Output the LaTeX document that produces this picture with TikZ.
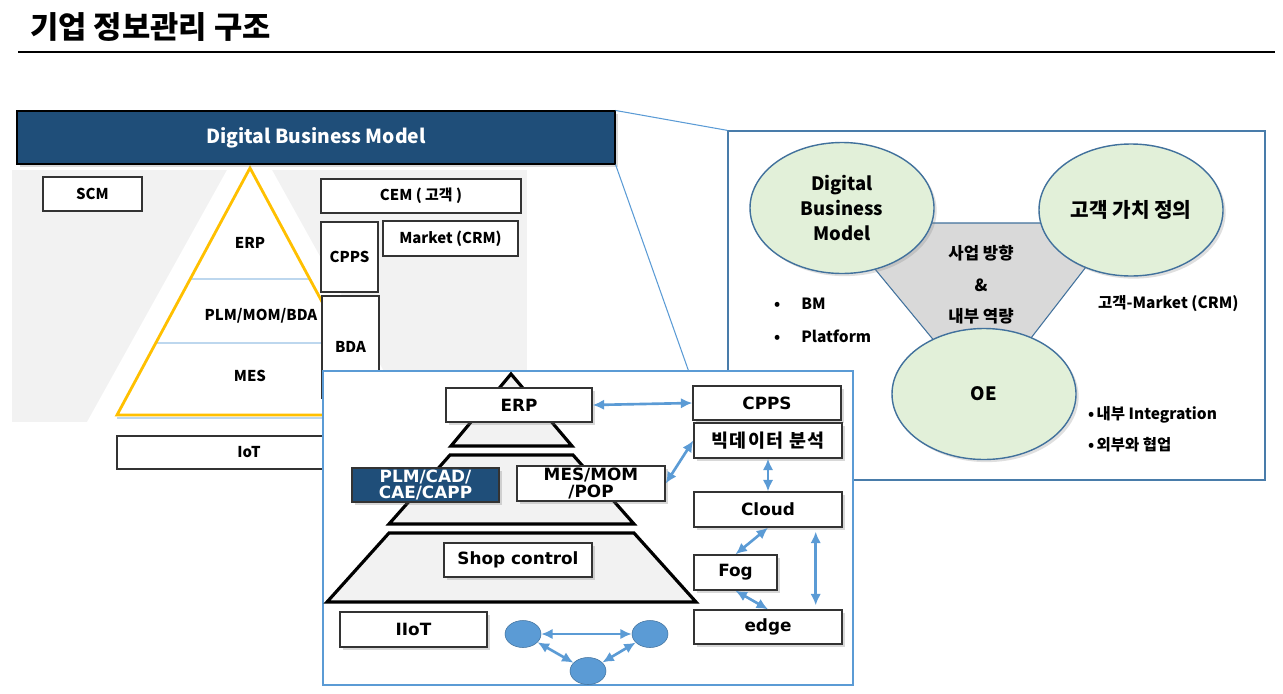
\documentclass[tikz,border=0pt]{standalone}
\usepackage{fontspec}
\setmainfont{Noto Sans CJK KR}
\newfontfamily\verdfont{DejaVu Sans}
\usetikzlibrary{arrows.meta, positioning, calc, shapes.geometric, shadows}

\definecolor{dbmblue}{HTML}{1F4E79}
\definecolor{pyryellow}{HTML}{FFC000}
\definecolor{bggray}{HTML}{F2F2F2}
\definecolor{linkblue}{HTML}{5B9BD5}
\definecolor{edgeblue}{HTML}{41719C}
\definecolor{ovalgreen}{HTML}{E2F0D9}
\definecolor{divblue}{HTML}{BDD7EE}
\definecolor{trigray}{HTML}{D9D9D9}

\begin{document}
\begin{tikzpicture}[x=0.02cm, y=-0.02cm,
  wh/.style 2 args={minimum width=#1*0.02cm, minimum height=#2*0.02cm},
  lbox/.style={draw=black!80, fill=white, line width=0.6pt, inner sep=0pt, font=\bfseries\fontsize{8.5}{10}\selectfont},
  ptext/.style={font=\bfseries\fontsize{8.5}{10}\selectfont},
  hdr/.style={draw=black, fill=dbmblue, text=white, line width=0.6pt, font=\bfseries\fontsize{11}{13}\selectfont, drop shadow={shadow xshift=1.5pt, shadow yshift=-1.5pt, opacity=0.3}},
  oval/.style={ellipse, draw=edgeblue, fill=ovalgreen, line width=0.8pt, align=center, inner sep=0pt, font=\bfseries\fontsize{10.5}{14.2}\selectfont, drop shadow={shadow xshift=1.5pt, shadow yshift=-1.5pt, opacity=0.25}},
  rtext/.style={font=\bfseries\fontsize{9.5}{11}\selectfont},
  rnote/.style={anchor=west, font=\bfseries\fontsize{8.8}{11}\selectfont},
  ibox/.style={draw=black!80, fill=white, line width=0.8pt, inner sep=0pt, align=center, font=\verdfont\bfseries\fontsize{9.6}{9.6}\selectfont, drop shadow={shadow xshift=1.5pt, shadow yshift=-1.5pt, opacity=0.3}},
  ipyr/.style={draw=black, fill=bggray, line width=1.8pt, line join=miter},
  dot/.style={ellipse, draw=edgeblue, fill=linkblue, line width=0.3pt, wh={36}{27}},
  link/.style={{Latex[length=6.5pt,width=6pt]}-{Latex[length=6.5pt,width=6pt]}, draw=linkblue, line width=1.5pt},
  zoomline/.style={draw=linkblue, line width=0.6pt}
]
\useasboundingbox (0,0) rectangle (1283,693);

% Title
\node[anchor=west, font=\bfseries\fontsize{17.5}{21}\selectfont] (title) at (24,27) {기업 정보관리 구조};
\draw[line width=0.6pt] (18,52) -- (1275,52);

% Left panel background
\fill[bggray] (12,170) rectangle (527,422);
\fill[white] (227,170) -- (272,170) -- (412,422) -- (87,422) -- cycle;

% Pyramid
\fill[white] (250,168) -- (383,415) -- (117,415) -- cycle;
\begin{scope}
  \clip (250,168) -- (383,415) -- (117,415) -- cycle;
  \draw[divblue, line width=0.6pt] (100,279) -- (400,279) (100,343) -- (400,343);
\end{scope}
\draw[divblue, line width=0.6pt] (117,418) -- (383,418);
\draw[pyryellow, line width=1.6pt, line join=miter] (250,168) -- (383,415) -- (117,415) -- cycle;
\node[ptext] (perp) at (250,243) {ERP};
\node[ptext] (pplm) at (261,316) {PLM/MOM/BDA};
\node[ptext] (pmes) at (250,376) {MES};

% Left boxes
\node[lbox, wh={99}{34}] (scm) at (92.5,194) {SCM};
\node[lbox, wh={200}{34}] (cem) at (421,196) {CEM ( 고객 )};
\node[lbox, wh={57}{70}] (lcpps) at (349.5,257) {CPPS};
\node[lbox, wh={135}{35}] (mkt) at (450.5,238.5) {Market (CRM)};
\node[lbox, wh={57}{102}] (lbda) at (350.5,347) {BDA};
\node[lbox, wh={264}{33}] (iot) at (249,452.5) {IoT};

% Header
\node[hdr, wh={598}{53}] (hdr) at (316,137.5) {Digital Business Model};

% Right panel
\node[draw=linkblue!80!black, fill=white, line width=0.7pt, wh={537}{349}] (rpanel) at (996.5,305.5) {};
\draw[zoomline] (hdr.north east) -- (rpanel.north west);
\draw[zoomline] (hdr.south east) -- (rpanel.south west);

\filldraw[fill=trigray, draw=edgeblue, line width=0.6pt] (837,223) -- (1120,223) -- (983,400) -- cycle;
\node[oval, wh={184}{131}] (dbm) at (842,208) {Digital\\Business\\Model};
\node[oval, wh={184}{132}, font=\bfseries\fontsize{11.5}{14}\selectfont] (value) at (1131,210) {고객 가치 정의};
\node[oval, wh={184}{131}] (oe) at (984,394) {OE};

\node[rtext] (dir) at (981,253) {사업 방향};
\node[rtext] (amp) at (981,285) {\&};
\node[rtext] (cap) at (981,316) {내부 역량};

\node[rnote] (bm) at (768,304) {\makebox[1.75em][l]{•}BM};
\node[rnote] (plat) at (768,336) {\makebox[1.75em][l]{•}Platform};
\node[rnote] (crm) at (1092,304) {고객-Market (CRM)};
\node[rnote] (integ) at (1082,415) {•\hspace{0.15em}내부 Integration};
\node[rnote] (collab) at (1082,445) {•\hspace{0.15em}외부와 협업};

% Inset
\node[draw=linkblue, fill=white, line width=0.6pt, wh={530}{314}] (inset) at (588,528) {};

\filldraw[ipyr] (511,374) -- (572,446) -- (451,446) -- cycle;
\filldraw[ipyr] (450,455) -- (573,455) -- (634,524) -- (389,524) -- cycle;
\filldraw[ipyr] (389,533) -- (634,533) -- (696,602) -- (327,602) -- cycle;

\node[ibox, wh={146}{34}] (erp) at (519,405) {ERP};
\node[ibox, wh={147}{34}, fill=dbmblue, text=white] (plm) at (425.5,485) {PLM/CAD/\\CAE/CAPP};
\node[ibox, wh={148}{35}] (mes) at (591,483.5) {MES/MOM\\/POP};
\node[ibox, wh={148}{34}] (shop) at (518,560) {Shop control};
\node[ibox, wh={147}{35}] (iiot) at (413.5,629.5) {IIoT};

\node[ibox, wh={148}{34}] (cpps) at (767,403) {CPPS};
\node[ibox, wh={148}{35}, font=\bfseries\fontsize{10.5}{12}\selectfont\addfontfeature{LetterSpace=8}] (bigdata) at (768,440.5) {빅데이터 분석};
\node[ibox, wh={148}{35}] (cloud) at (768,509.5) {Cloud};
\node[ibox, wh={83}{35}] (fog) at (735.5,572.5) {Fog};
\node[ibox, wh={148}{34}] (edge) at (768,627) {edge};

\node[dot] (d1) at (523,634) {};
\node[dot] (d2) at (650,634) {};
\node[dot] (d3) at (588,671) {};

% Links
\draw[link] (erp.east) -- (cpps.west);
\draw[link] (mes.east) -- (bigdata.west);
\draw[link] (bigdata.south) -- (cloud.north);
\draw[link] (cloud.south) -- (fog.north);
\draw[link] (fog.south) -- (edge.north);
\draw[link] ($(cloud.south east)+(-27,4)$) -- ($(edge.north east)+(-27,-4)$);
\draw[link] (d1) -- (d2);
\draw[link] (d1) -- (d3);
\draw[link] (d3) -- (d2);
\end{tikzpicture}
\end{document}
